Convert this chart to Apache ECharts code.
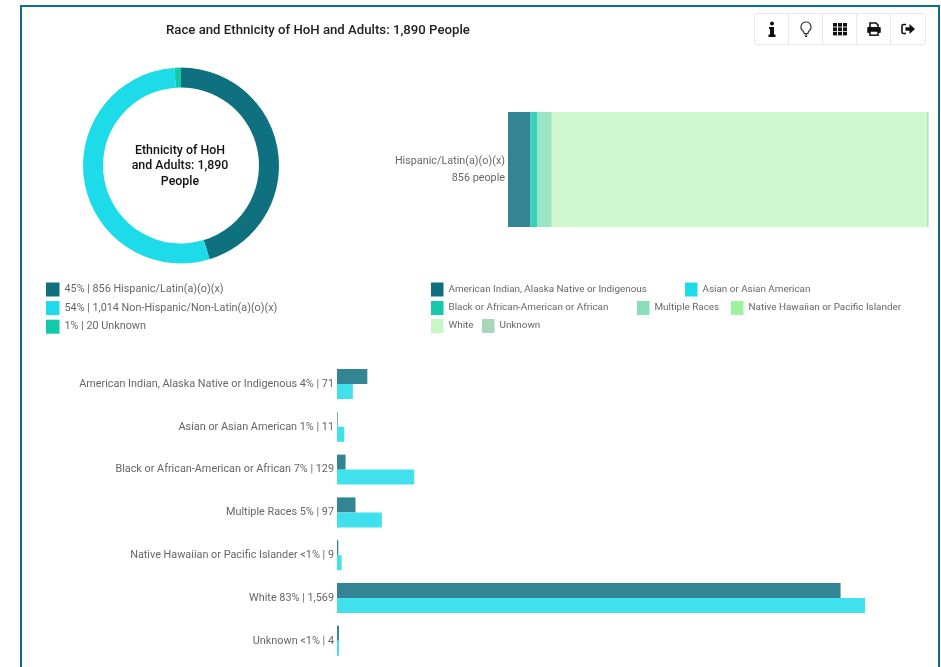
<!DOCTYPE html>
<html>
  <head>
    <meta charset="utf-8" />
    <title>Race and Ethnicity of HoH and Adults</title>
    <style type="text/css">
      html,
      body {
        margin: 0;
        width: 100%;
        height: 100%;
        overflow: hidden;
        background: #fff;
      }
      #frame {
        position: absolute;
        left: 20px;
        top: 5px;
        width: 916px;
        height: 700px;
        border: 2px solid #0e6c8f;
      }
      #chart {
        position: absolute;
        left: 0;
        top: 0;
        width: 941px;
        height: 667px;
      }
      #tools {
        position: absolute;
        left: 754px;
        top: 13px;
        display: flex;
        border: 1px solid #e6e9ec;
        border-radius: 3px;
        z-index: 2;
        background: #fff;
      }
      #tools div {
        width: 33px;
        height: 30px;
        border-right: 1px solid #e6e9ec;
        display: flex;
        align-items: center;
        justify-content: center;
      }
      #tools div:last-child {
        border-right: 0;
        width: 34px;
      }
    </style>
    <script src="https://cdn.jsdelivr.net/npm/echarts@6/dist/echarts.min.js"></script>
  </head>
  <body>
    <div id="frame"></div>
    <div id="tools">
      <div>
        <svg width="14" height="16" viewBox="0 0 14 16">
          <circle cx="7" cy="2.5" r="2" fill="#111" />
          <path d="M4 6h5v7.5h1.5V16h-7v-2.5H5V8H4z" fill="#111" />
        </svg>
      </div>
      <div>
        <svg width="14" height="16" viewBox="0 0 14 16">
          <path d="M7 1a5 5 0 0 0-3 9c.8.7 1 1.5 1 2.5h4c0-1 .2-1.8 1-2.5a5 5 0 0 0-3-9z" fill="none" stroke="#333" stroke-width="1.2" />
          <path d="M5.5 14h3M6 15.5h2" stroke="#111" stroke-width="1.2" />
        </svg>
      </div>
      <div>
        <svg width="14" height="14" viewBox="0 0 14 14" fill="#111">
          <rect x="0" y="1" width="4" height="3.6" /><rect x="5" y="1" width="4" height="3.6" /><rect x="10" y="1" width="4" height="3.6" />
          <rect x="0" y="5.4" width="4" height="3.6" /><rect x="5" y="5.4" width="4" height="3.6" /><rect x="10" y="5.4" width="4" height="3.6" />
          <rect x="0" y="9.8" width="4" height="3.6" /><rect x="5" y="9.8" width="4" height="3.6" /><rect x="10" y="9.8" width="4" height="3.6" />
        </svg>
      </div>
      <div>
        <svg width="14" height="14" viewBox="0 0 14 14">
          <path d="M3 5V1h6l2 2v2" fill="none" stroke="#111" stroke-width="1.6" />
          <path d="M0.8 5.5h12.4v5H0.8z" fill="#111" stroke="#111" stroke-linejoin="round" />
          <rect x="3" y="9" width="8" height="4.2" fill="#fff" stroke="#111" stroke-width="1.5" />
        </svg>
      </div>
      <div>
        <svg width="14" height="14" viewBox="0 0 14 14">
          <path d="M5 2.5H2.5A1.5 1.5 0 0 0 1 4v6a1.5 1.5 0 0 0 1.500 1.500H5" fill="none" stroke="#111" stroke-width="1.6" />
          <path d="M4.500 5.200H8.500V2L14 7L8.500 12V8.800H4.500z" fill="#111" />
        </svg>
      </div>
    </div>
    <div id="chart"></div>
    <script type="text/javascript">
      var titleText = "Race and Ethnicity of HoH and Adults: 1,890 People";
      var donutText = "Ethnicity of HoH\nand Adults: 1,890\nPeople";

      var ethnicityNames = ["Hispanic/Latin(a)(o)(x)", "Non-Hispanic/Non-Latin(a)(o)(x)", "Unknown"];
      var ethnicityCounts = [856, 1014, 20];
      var ethnicityCountLabels = ["856", "1,014", "20"];
      var ethnicityPercents = ["45%", "54%", "1%"];
      var ethnicityColors = ["#0f7080", "#1edbea", "#13c9a9"];

      var raceNames = [
        "American Indian, Alaska Native or Indigenous",
        "Asian or Asian American",
        "Black or African-American or African",
        "Multiple Races",
        "Native Hawaiian or Pacific Islander",
        "White",
        "Unknown",
      ];
      var racePercents = ["4%", "1%", "7%", "5%", "<1%", "83%", "<1%"];
      var raceTotals = ["71", "11", "129", "97", "9", "1,569", "4"];
      var raceColors = ["#0f7080", "#1edbea", "#13c9a9", "#8adfbb", "#9ef29e", "#c7f7c5", "#a9d6b9"];

      // people per race
      var hispanicByRace = [46, 1, 13, 28, 2, 763, 3];
      var nonHispanicByRace = [24, 11, 117, 68, 7, 800, 3];

      var stackCategory = "Hispanic/Latin(a)(o)(x)\n856 people";

      var font = "Roboto";
      var chart = echarts.init(document.getElementById("chart"));

      var legendSpots = [
        [431, 282.5], [685, 282.5],
        [431, 301], [637, 301], [731, 301],
        [431, 319], [482, 319],
      ];

      var legends = raceNames.map(function (name, i) {
        return {
          data: [{ name: name, itemStyle: { color: raceColors[i], opacity: 1 } }],
          left: legendSpots[i][0],
          top: legendSpots[i][1],
          icon: "rect",
          itemWidth: 12.5,
          itemHeight: 14,
          selectedMode: false,
          padding: 0,
          textStyle: { fontFamily: font, fontSize: 9.9, color: "#666" },
        };
      });

      legends.push({
        data: ethnicityNames.map(function (name, i) {
          return { name: name, itemStyle: { color: ethnicityColors[i], opacity: 1 } };
        }),
        orient: "vertical",
        left: 46,
        top: 282.5,
        icon: "rect",
        itemWidth: 13.5,
        itemHeight: 14,
        itemGap: 4.6,
        selectedMode: false,
        padding: 0,
        formatter: function (name) {
          var i = ethnicityNames.indexOf(name);
          return ethnicityPercents[i] + " | " + ethnicityCountLabels[i] + " " + name;
        },
        textStyle: { fontFamily: font, fontSize: 10.8, color: "#666" },
      });

      var stackSeries = raceNames.map(function (name, i) {
        return {
          name: name,
          type: "bar",
          stack: "hispanic",
          xAxisIndex: 0,
          yAxisIndex: 0,
          barWidth: 115,
          itemStyle: { color: raceColors[i], opacity: 0.85 },
          data: [hispanicByRace[i]],
        };
      });

      var option = {
        animation: false,
        textStyle: { fontFamily: font },
        tooltip: { trigger: "item" },
        title: [
          {
            text: titleText,
            left: 166,
            top: 24,
            padding: 0,
            textStyle: { fontFamily: font, fontSize: 13.2, fontWeight: 500, color: "#222" },
          },
          {
            text: donutText,
            left: 180,
            top: 143,
            padding: 0,
            textAlign: "center",
            textStyle: { fontFamily: font, fontSize: 12.4, fontWeight: 500, color: "#111", lineHeight: 15.5, align: "center" },
          },
        ],
        legend: legends,
        grid: [
          { left: 508, top: 112, width: 420.5, height: 115 },
          { left: 337, top: 362.6, width: 594, height: 299.6 },
        ],
        xAxis: [
          { type: "value", gridIndex: 0, min: 0, max: 856, show: false },
          { type: "value", gridIndex: 1, min: 0, max: 900, show: false },
        ],
        yAxis: [
          {
            type: "category",
            gridIndex: 0,
            data: [stackCategory],
            axisLine: { show: false },
            axisTick: { show: false },
            axisLabel: { margin: 3, fontFamily: font, fontSize: 10.8, color: "#666", lineHeight: 17, align: "right", padding: [0, 0, 3, 0] },
          },
          {
            type: "category",
            gridIndex: 1,
            inverse: true,
            data: raceNames,
            axisLine: { show: false },
            axisTick: { show: false },
            axisLabel: {
              margin: 3,
              fontFamily: font,
              fontSize: 10.85,
              color: "#666",
              padding: [1, 0, 0, 0],
              formatter: function (name, i) {
                return name + " " + racePercents[i] + " | " + raceTotals[i];
              },
            },
          },
        ],
        series: [
          {
            name: "Ethnicity",
            type: "pie",
            center: [181, 165.5],
            radius: [78, 98],
            startAngle: 90,
            label: { show: false },
            labelLine: { show: false },
            data: ethnicityNames.map(function (name, i) {
              return { name: name, value: ethnicityCounts[i], itemStyle: { color: ethnicityColors[i] } };
            }),
          },
        ]
          .concat(stackSeries)
          .concat([
            {
              name: ethnicityNames[0],
              type: "bar",
              xAxisIndex: 1,
              yAxisIndex: 1,
              barWidth: 15,
              barGap: 0,
              itemStyle: { color: ethnicityColors[0], opacity: 0.85 },
              data: hispanicByRace,
            },
            {
              name: ethnicityNames[1],
              type: "bar",
              xAxisIndex: 1,
              yAxisIndex: 1,
              barWidth: 15,
              barGap: 0,
              itemStyle: { color: ethnicityColors[1], opacity: 0.85 },
              data: nonHispanicByRace,
            },
          ]),
      };

      chart.setOption(option);
    </script>
  </body>
</html>
